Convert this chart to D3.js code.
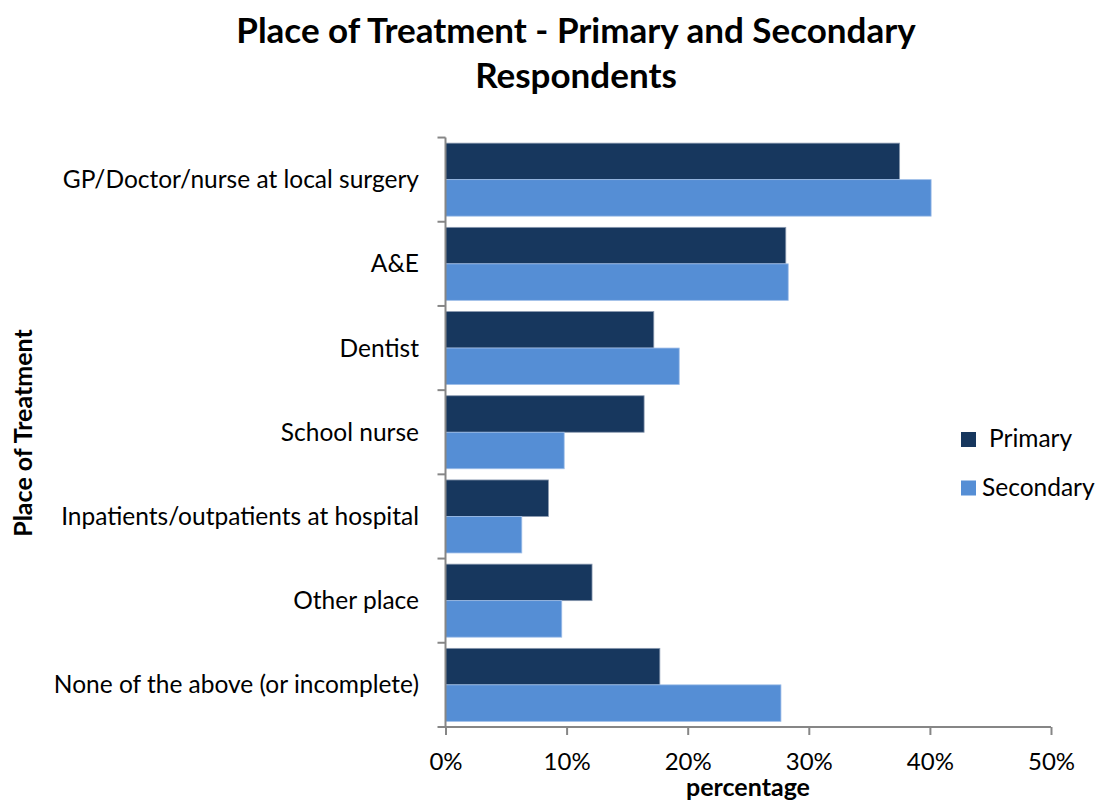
<!DOCTYPE html>
<html><head><meta charset="utf-8">
<script src="https://cdn.jsdelivr.net/npm/d3@7"></script>
<style>body{margin:0;background:#fff;} text{font-family:Lato,"Open Sans",sans-serif;}</style>
</head><body>
<svg id="chart" width="1097" height="800"></svg>
<script>
const categories = ["GP/Doctor/nurse at local surgery","A&E","Dentist","School nurse","Inpatients/outpatients at hospital","Other place","None of the above (or incomplete)"];
const seriesNames = ["Primary","Secondary"];
const primaryValues = [37.5, 28.1, 17.2, 16.4, 8.5, 12.1, 17.7];
const secondaryValues = [40.1, 28.3, 19.3, 9.8, 6.3, 9.6, 27.7];
const xTicks = [0,10,20,30,40,50];
const colors = ["#17375E","#558ED5"];

const svg = d3.select("#chart");
const x = d3.scaleLinear().domain([0,50]).range([445.5,1051]);
const y = d3.scaleBand().domain(categories).range([137.5,727]).paddingInner(0.133).paddingOuter(0.067);
const sub = d3.scaleBand().domain(seriesNames).range([0,y.bandwidth()]);

const data = categories.map((c,i)=>({cat:c, vals:[primaryValues[i],secondaryValues[i]]}));

const g = svg.append("g");
g.selectAll("g.grp").data(data).join("g").attr("class","grp")
 .attr("transform",d=>`translate(0,${y(d.cat)})`)
 .selectAll("rect").data(d=>d.vals.map((v,j)=>({v,s:seriesNames[j],j})))
 .join("rect")
 .attr("x",x(0)).attr("y",d=>sub(d.s)).attr("width",d=>x(d.v)-x(0)).attr("height",sub.bandwidth())
 .attr("fill",d=>colors[d.j]).attr("stroke",d=>d.j===0?"#8a9ab0":"#9dbde8").attr("stroke-width",0.8);

// y axis
const ya = svg.append("g").attr("transform",`translate(${x(0)},0)`);
ya.append("line").attr("x1",0).attr("x2",0).attr("y1",137.5).attr("y2",727).attr("stroke","#868686").attr("stroke-width",2);
const yBounds = categories.map(c=>y(c)-y.step()*y.paddingInner()/2).concat([727]);
ya.selectAll("line.tk").data(yBounds).join("line").attr("class","tk")
 .attr("x1",-8).attr("x2",0).attr("y1",d=>d).attr("y2",d=>d).attr("stroke","#868686").attr("stroke-width",2);
svg.append("g").selectAll("text").data(categories).join("text")
 .attr("x",419).attr("y",d=>y(d)+y.bandwidth()/2).attr("dy","0.35em").attr("text-anchor","end")
 .attr("font-size",24.5).attr("fill","#000").text(d=>d);

// x axis
const xAxis = d3.axisBottom(x).tickValues(xTicks).tickSize(8).tickFormat(d=>d+"%");
const xa = svg.append("g").attr("transform","translate(0,727)").call(xAxis);
xa.select(".domain").attr("stroke","#868686").attr("stroke-width",2).attr("d",`M${x(0)},0H${x(50)}`);
xa.selectAll(".tick line").attr("stroke","#868686").attr("stroke-width",2);
xa.selectAll(".tick text").attr("font-size",24).attr("fill","#000").attr("y",0).attr("dy","43px").attr("font-family","Lato");

// titles
const title = svg.append("text").attr("x",576).attr("text-anchor","middle").attr("font-size",35).attr("font-weight","bold");
title.append("tspan").attr("x",576).attr("y",43).text("Place of Treatment - Primary and Secondary");
title.append("tspan").attr("x",576).attr("y",88).text("Respondents");
svg.append("text").attr("x",748).attr("y",796).attr("text-anchor","middle").attr("font-size",25).attr("font-weight","bold").text("percentage");
svg.append("text").attr("transform","translate(32,433) rotate(-90)").attr("text-anchor","middle").attr("font-size",25).attr("font-weight","bold").text("Place of Treatment");

// legend
const leg = svg.append("g");
const legY = [439.5, 488];
const legTx = [989, 982];
seriesNames.forEach((s,i)=>{
  leg.append("rect").attr("x",961).attr("y",legY[i]-7.5).attr("width",15).attr("height",15).attr("fill",colors[i]);
  leg.append("text").attr("x",legTx[i]).attr("y",legY[i]-1).attr("dy","0.35em").attr("font-size",24.5).text(s);
});
</script>
</body></html>
